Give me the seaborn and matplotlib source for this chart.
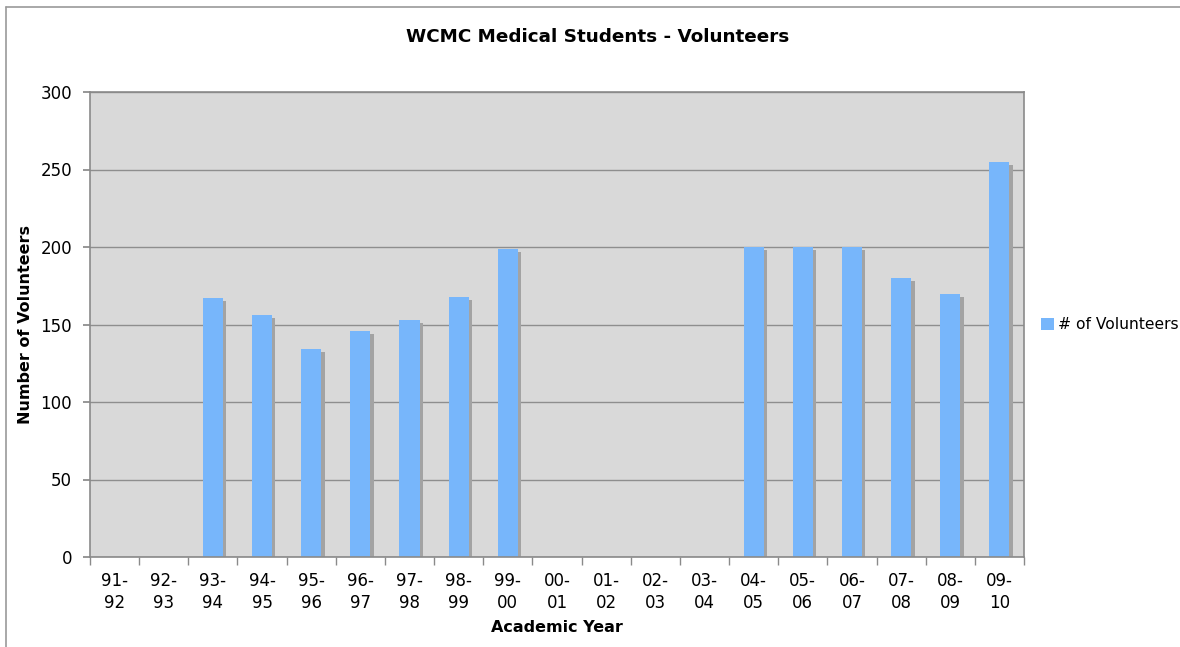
import matplotlib
matplotlib.use("Agg")
import matplotlib.pyplot as plt
import matplotlib.patheffects as pe
from matplotlib.lines import Line2D
from matplotlib.ticker import MultipleLocator, FixedLocator
import numpy as np
import pandas as pd
import seaborn as sns

# ─────────────────────────────────────────────
# DATA
# ─────────────────────────────────────────────
years = ["91-92", "92-93", "93-94", "94-95", "95-96", "96-97", "97-98",
         "98-99", "99-00", "00-01", "01-02", "02-03", "03-04", "04-05",
         "05-06", "06-07", "07-08", "08-09", "09-10"]
volunteers = [0, 0, 167, 156, 134, 146, 153, 168, 199, 0, 0, 0, 0,
              200, 200, 200, 180, 170, 255]
tick_labels = [y.replace("-", "-\n") for y in years]

BAR_COLOR = "#77b6fb"
PLOT_BG = "#d9d9d9"
GRID_COLOR = "#8e8e8e"
EDGE_COLOR = "#8a8a8a"

df = pd.DataFrame({"year": years, "volunteers": volunteers})

sns.set_theme(style="white")
plt.rcParams["font.family"] = ["DejaVu Sans"]
plt.rcParams["text.color"] = "black"
plt.rcParams["axes.labelcolor"] = "black"
plt.rcParams["xtick.labelcolor"] = "black"
plt.rcParams["ytick.labelcolor"] = "black"

fig = plt.figure(figsize=(11.8, 6.47), dpi=100)
ax = fig.add_axes([90 / 1180, 1 - 557 / 647, 934 / 1180, 465 / 647])
ax.set_facecolor(PLOT_BG)

sns.barplot(data=df, x="year", y="volunteers", color=BAR_COLOR,
            saturation=1, width=0.41, linewidth=0, label="# of Volunteers",
            ax=ax)

# drop shadow on bars
for bar in ax.patches:
    bar.set_path_effects([
        pe.SimplePatchShadow(offset=(2.4, -2.2), shadow_rgbFace="#a3a3a3", alpha=1),
        pe.Normal(),
    ])

ax.set_ylim(0, 300)
ax.set_xlim(-0.5, len(years) - 0.5)
ax.yaxis.set_major_locator(MultipleLocator(50))
ax.set_axisbelow(True)
ax.yaxis.grid(True, color=GRID_COLOR, linewidth=1)
ax.xaxis.grid(False)

for side in ["left", "right", "top", "bottom"]:
    ax.spines[side].set_color(EDGE_COLOR)
    ax.spines[side].set_linewidth(1.2)

ax.set_xticks(range(len(years)))
ax.set_xticklabels(tick_labels, fontsize=12, linespacing=1.25)
ax.xaxis.set_minor_locator(FixedLocator(np.arange(-0.5, len(years), 1)))
ax.tick_params(axis="x", which="major", length=0, pad=11)
ax.tick_params(axis="x", which="minor", length=6, color=EDGE_COLOR, direction="out", bottom=True)
ax.tick_params(axis="y", which="major", length=5, color=EDGE_COLOR, direction="out",
               left=True, labelsize=12, pad=8)

ax.set_xlabel("Academic Year", fontsize=11.5, fontweight="bold")
ax.set_ylabel("Number of Volunteers", fontsize=11.5, fontweight="bold")
ax.xaxis.set_label_coords(0.5, -0.135)
ax.yaxis.set_label_coords(-0.0605, 0.5)

fig.text(598 / 1180, 1 - 37 / 647, "WCMC Medical Students - Volunteers",
         ha="center", va="center", fontsize=13.2, fontweight="bold")

leg = ax.legend(loc="center left", bbox_to_anchor=(1.0185, 0.5), frameon=False,
                fontsize=11.2, handlelength=0.8, handleheight=0.8,
                handletextpad=0.25, borderaxespad=0, borderpad=0)
for h in leg.legend_handles:
    h.set_path_effects([])

# outer chart frame (top and left edge visible in reference)
fig.add_artist(Line2D([6 / 1180, 1], [1 - 7 / 647, 1 - 7 / 647],
                      transform=fig.transFigure, color="#9a9a9a", lw=1.2))
fig.add_artist(Line2D([6 / 1180, 6 / 1180], [0, 1 - 7 / 647],
                      transform=fig.transFigure, color="#9a9a9a", lw=1.2))

fig.savefig("out.png", dpi=100)
plt.close(fig)
